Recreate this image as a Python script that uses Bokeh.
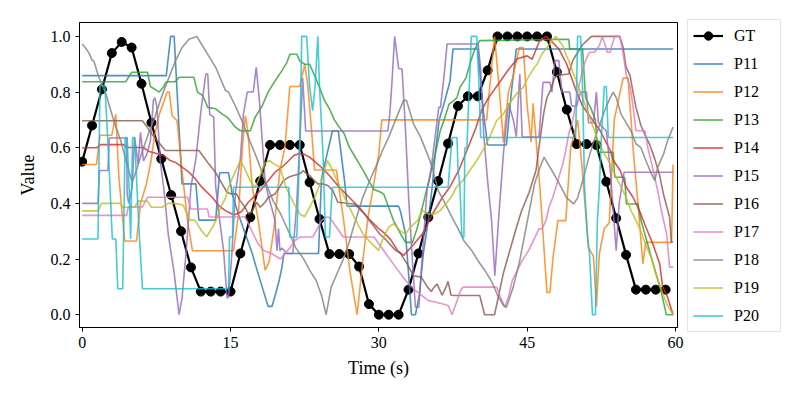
from bokeh.plotting import figure
from bokeh.models import Range1d, FixedTicker, PrintfTickFormatter, Legend, LegendItem
from bokeh.embed import file_html
from bokeh.resources import INLINE

FONT = "Liberation Serif"

x_ticks = [0, 15, 30, 45, 60]
y_ticks = [0.0, 0.2, 0.4, 0.6, 0.8, 1.0]

gt_t = list(range(60))
gt_v = [0.55, 0.68, 0.81, 0.94, 0.98, 0.96, 0.83, 0.69, 0.56, 0.43,
        0.30, 0.17, 0.083, 0.083, 0.083, 0.083, 0.22, 0.35, 0.48, 0.61,
        0.61, 0.61, 0.61, 0.476, 0.344, 0.218, 0.218, 0.218, 0.173, 0.038,
        0.0, 0.0, 0.0, 0.09, 0.22, 0.35, 0.48, 0.615, 0.75, 0.785,
        0.785, 0.878, 1.0, 1.0, 1.0, 1.0, 1.0, 1.0, 0.872, 0.737,
        0.613, 0.613, 0.61, 0.478, 0.347, 0.215, 0.09, 0.09, 0.09, 0.09]

p11 = [(0,0.859),(8.5,0.859),(8.95,1.0),(9.3,1.0),(9.6,0.8),(10.1,0.47),(11.5,0.47),(11.8,0.34),(13.5,0.34),(13.9,0.51),(14.8,0.51),(15.2,0.43),(15.9,0.35),(16.6,0.28),(17.2,0.22),(17.6,0.17),(18.2,0.10),(18.8,0.03),(19.2,0.03),(19.6,0.08),(19.9,0.12),(20.2,0.17),(20.4,0.22),(23.9,0.22),(24.2,0.49),(25.3,0.66),(25.9,0.66),(26.5,0.49),(26.8,0.39),(32.0,0.39),(32.2,0.37),(32.7,0.29),(33.0,0.15),(33.3,0.0),(33.7,0.0),(34.1,0.07),(34.5,0.22),(35.0,0.34),(35.4,0.46),(35.7,0.58),(36.1,0.70),(36.6,0.76),(37.2,0.84),(37.5,0.955),(40.0,0.955),(40.6,0.72),(41.0,0.61),(42.9,0.61),(43.4,0.80),(43.9,0.955),(59.75,0.955)]

p12 = [(0,0.54),(1.45,0.54),(1.8,0.645),(3.0,0.645),(3.4,0.72),(3.7,0.50),(4.3,0.265),(5.5,0.265),(5.9,0.40),(6.5,0.47),(7.0,0.56),(7.3,0.64),(7.8,0.72),(8.2,0.76),(8.6,0.80),(8.8,0.80),(9.1,0.715),(9.6,0.697),(10.1,0.517),(10.65,0.338),(11.15,0.23),(15.3,0.23),(15.8,0.36),(16.2,0.60),(16.5,0.715),(16.75,0.66),(17.2,0.46),(17.8,0.34),(18.5,0.16),(18.9,0.19),(19.4,0.31),(20.0,0.52),(20.5,0.60),(21.0,0.82),(22.0,0.82),(22.5,0.90),(22.8,0.83),(23.2,0.66),(23.5,0.52),(25.7,0.52),(26.4,0.35),(27.1,0.15),(27.8,0.0),(28.4,0.20),(28.9,0.35),(29.4,0.45),(30.0,0.58),(30.3,0.70),(40.9,0.70),(41.3,0.85),(41.7,1.0),(42.2,0.80),(42.6,0.62),(43.1,0.80),(43.6,0.86),(44.2,0.96),(44.6,0.96),(45.0,0.75),(45.4,0.62),(45.6,0.76),(46.3,0.45),(47.0,0.08),(47.3,0.08),(47.6,0.2),(48.1,0.338),(48.9,0.338),(49.4,0.60),(50.1,0.70),(50.5,0.55),(51.2,0.24),(51.7,0.21),(52.0,0.03),(52.3,0.22),(52.8,0.31),(53.3,0.33),(53.8,0.70),(54.7,0.85),(55.2,0.85),(55.7,0.60),(56.2,0.40),(56.7,0.183),(57.0,0.26),(59.6,0.26),(59.75,0.54)]

p13 = [(0,0.837),(4.4,0.837),(5.0,0.871),(6.6,0.871),(6.9,0.82),(7.8,0.80),(8.2,0.817),(8.5,0.837),(9.4,0.837),(9.8,0.853),(11.3,0.853),(11.66,0.80),(12.2,0.787),(12.7,0.745),(13.5,0.74),(14.2,0.72),(14.7,0.709),(15.5,0.674),(16.0,0.661),(17.0,0.661),(17.5,0.71),(18.2,0.75),(18.8,0.80),(19.5,0.84),(20.2,0.877),(20.7,0.906),(21.0,0.936),(21.7,0.936),(22.0,0.912),(22.5,0.90),(23.0,0.90),(23.5,0.859),(24.0,0.817),(24.5,0.77),(25.0,0.74),(25.5,0.70),(26.0,0.674),(26.5,0.65),(27.0,0.603),(27.5,0.573),(28.0,0.543),(28.5,0.513),(29.0,0.48),(29.5,0.45),(30.2,0.44),(30.5,0.433),(31.0,0.385),(31.5,0.337),(32.2,0.29),(32.7,0.26),(33.4,0.26),(33.9,0.313),(34.4,0.386),(34.9,0.458),(35.2,0.505),(35.7,0.577),(36.2,0.66),(36.7,0.71),(37.1,0.757),(37.6,0.77),(37.9,0.78),(38.2,0.817),(38.8,0.85),(39.2,0.90),(39.7,0.955),(40.2,0.985),(49.2,0.99),(49.3,0.955),(50.6,0.955),(50.9,0.78),(51.4,0.745),(51.9,0.70),(52.1,0.584),(53.7,0.584),(53.85,0.494),(54.86,0.494),(55.03,0.398),(56.2,0.398),(56.5,0.34),(57.6,0.20),(58.5,0.09),(59.07,0.0),(59.75,0.0)]

p14 = [(0,0.60),(1.5,0.60),(1.85,0.611),(4.2,0.611),(4.5,0.601),(6.2,0.601),(6.7,0.587),(7.6,0.578),(8.25,0.572),(8.9,0.554),(9.4,0.548),(10.1,0.53),(10.8,0.512),(11.45,0.488),(11.96,0.464),(12.46,0.446),(13.14,0.422),(13.81,0.392),(14.49,0.374),(15.16,0.362),(15.5,0.36),(16.1,0.37),(16.8,0.404),(17.5,0.428),(18.16,0.452),(18.83,0.482),(19.5,0.512),(20.2,0.53),(20.9,0.554),(21.4,0.572),(21.9,0.578),(22.4,0.578),(23.0,0.566),(24.0,0.536),(25.0,0.50),(26.0,0.458),(27.0,0.422),(28.0,0.386),(29.0,0.344),(30.0,0.309),(30.5,0.295),(31.2,0.27),(31.9,0.23),(32.5,0.213),(33.2,0.24),(34.4,0.29),(35.4,0.36),(36.4,0.42),(37.2,0.46),(38.1,0.52),(38.9,0.59),(39.8,0.67),(40.4,0.735),(41.1,0.78),(42.1,0.83),(43.1,0.88),(44.0,0.92),(45.0,0.93),(45.5,0.918),(46.2,0.98),(46.9,1.0),(47.4,0.985),(48.2,0.955),(49.0,0.90),(49.9,0.81),(50.6,0.75),(51.6,0.70),(52.4,0.66),(53.4,0.59),(53.7,0.555),(54.4,0.518),(55.0,0.46),(55.7,0.422),(56.4,0.37),(57.0,0.315),(57.7,0.255),(58.4,0.183),(58.7,0.10),(59.2,0.063),(59.75,0.0)]

p15 = [(0,0.40),(1.6,0.40),(1.75,0.518),(2.6,0.518),(2.75,0.635),(4.5,0.635),(4.55,0.434),(4.7,0.40),(5.05,0.458),(5.3,0.637),(5.65,0.542),(5.9,0.655),(6.2,0.553),(6.55,0.577),(6.9,0.625),(7.2,0.77),(7.35,0.78),(7.55,0.75),(7.9,0.55),(8.3,0.44),(8.7,0.29),(9.3,0.15),(9.8,0.0),(10.1,0.06),(10.5,0.22),(11.0,0.46),(11.5,0.56),(12.0,0.73),(12.5,0.865),(12.7,0.865),(12.9,0.72),(13.3,0.71),(13.5,0.46),(13.9,0.34),(14.3,0.23),(14.65,0.06),(14.8,0.063),(15.1,0.2),(15.5,0.44),(16.0,0.56),(16.3,0.72),(16.7,0.80),(17.3,0.80),(17.6,0.889),(17.9,0.78),(18.2,0.63),(18.5,0.48),(18.8,0.43),(19.2,0.38),(19.5,0.338),(19.7,0.23),(19.85,0.31),(20.0,0.23),(20.2,0.24),(20.7,0.22),(21.3,0.22),(21.7,0.40),(22.0,0.62),(22.3,0.85),(22.6,0.66),(30.9,0.66),(31.1,0.72),(31.3,0.82),(31.6,1.0),(32.0,0.885),(32.35,0.883),(32.7,0.66),(33.03,0.41),(33.4,0.19),(33.7,0.027),(34.04,0.027),(34.37,0.2),(34.88,0.45),(35.2,0.50),(35.55,0.60),(36.06,0.745),(36.23,0.745),(36.6,0.86),(36.9,0.973),(40.04,0.973),(40.3,0.88),(40.6,0.65),(41.0,0.48),(41.4,0.34),(41.73,0.14),(42.1,0.34),(42.6,0.58),(43.1,0.76),(43.6,0.70),(43.9,0.64),(44.25,0.865),(44.5,0.638),(46.2,0.638),(46.6,0.835),(47.3,0.835),(47.5,0.80),(47.8,0.913),(48.2,0.913),(48.5,0.80),(49.3,0.80),(49.5,0.75),(50.0,0.75),(50.4,0.80),(51.0,0.80),(51.2,0.69),(51.7,0.69),(52.0,0.80),(52.2,0.69),(53.0,0.66),(53.4,0.52),(54.0,0.23),(54.3,0.40),(54.8,0.512),(59.75,0.512)]

p16 = [(0,0.697),(6.1,0.697),(6.56,0.674),(6.9,0.656),(7.58,0.626),(8.0,0.608),(8.42,0.59),(11.8,0.59),(12.3,0.566),(12.8,0.542),(13.47,0.512),(14.15,0.47),(14.65,0.44),(15.1,0.434),(15.6,0.434),(15.97,0.41),(16.47,0.386),(16.8,0.362),(17.15,0.37),(17.65,0.404),(18.0,0.386),(18.5,0.404),(18.83,0.422),(19.5,0.434),(19.85,0.452),(20.35,0.482),(20.86,0.494),(21.36,0.50),(22.0,0.506),(22.37,0.518),(22.7,0.506),(23.0,0.50),(23.3,0.488),(23.83,0.47),(24.33,0.47),(24.84,0.464),(25.35,0.446),(25.85,0.404),(27.5,0.398),(28.04,0.38),(28.55,0.362),(29.05,0.338),(29.56,0.315),(30.06,0.291),(30.7,0.27),(31.2,0.25),(31.7,0.231),(32.2,0.22),(32.9,0.18),(33.5,0.14),(34.3,0.135),(34.9,0.10),(35.3,0.083),(35.6,0.10),(35.9,0.11),(36.4,0.07),(36.8,0.10),(37.0,0.12),(37.3,0.07),(37.7,0.069),(40.2,0.069),(40.5,0.027),(40.7,0.0),(41.7,0.0),(42.0,0.05),(42.6,0.15),(43.0,0.20),(43.8,0.30),(44.4,0.37),(45.2,0.44),(45.9,0.52),(46.3,0.63),(46.7,0.73),(47.0,0.78),(47.4,0.81),(47.7,0.845),(48.0,0.86),(49.2,0.865),(49.6,0.913),(50.0,0.936),(50.6,0.97),(51.2,0.99),(51.5,1.0),(54.36,1.0),(54.7,0.96),(55.0,0.889),(55.4,0.86),(55.7,0.80),(56.0,0.745),(56.5,0.68),(57.0,0.64),(57.4,0.61),(57.9,0.56),(58.4,0.50),(58.8,0.43),(59.4,0.35),(59.58,0.261),(59.75,0.261)]

p17 = [(0,0.357),(4.5,0.357),(4.65,0.387),(6.1,0.387),(6.6,0.422),(10.65,0.422),(10.8,0.404),(11.0,0.38),(12.67,0.38),(12.84,0.351),(16.5,0.351),(16.9,0.32),(17.3,0.29),(17.8,0.254),(18.4,0.23),(19.2,0.219),(20.05,0.20),(20.5,0.219),(21.0,0.24),(21.5,0.266),(22.0,0.279),(23.3,0.279),(23.8,0.31),(24.2,0.338),(24.6,0.35),(25.0,0.35),(25.5,0.325),(26.0,0.30),(26.4,0.279),(29.5,0.279),(30.0,0.255),(30.6,0.225),(31.0,0.205),(31.7,0.171),(32.7,0.123),(33.7,0.087),(35.0,0.051),(36.4,0.039),(37.0,0.033),(37.4,0.0),(37.8,0.039),(38.3,0.09),(38.5,0.099),(41.9,0.099),(42.3,0.063),(42.74,0.027),(43.1,0.063),(43.5,0.123),(44.5,0.195),(45.15,0.231),(45.8,0.279),(46.2,0.309),(46.5,0.309),(46.9,0.338),(47.2,0.386),(47.6,0.422),(47.9,0.458),(48.2,0.494),(48.6,0.542),(48.9,0.59),(49.2,0.65),(49.6,0.697),(49.9,0.757),(50.2,0.817),(50.6,0.877),(50.9,0.913),(51.3,0.943),(51.8,0.943),(52.3,0.967),(52.6,1.0),(52.9,0.967),(53.1,0.943),(53.4,0.943),(53.5,0.96),(53.85,1.0),(54.36,1.0),(54.7,0.94),(55.0,0.865),(55.4,0.82),(55.7,0.75),(56.0,0.661),(56.9,0.661),(57.2,0.60),(57.6,0.54),(57.9,0.494),(58.2,0.446),(58.6,0.37),(59.1,0.29),(59.4,0.171),(59.75,0.171)]

p18 = [(0,0.973),(0.3,0.96),(0.7,0.94),(1.0,0.915),(1.2,0.91),(1.65,0.857),(2.4,0.793),(3.2,0.697),(3.9,0.625),(4.4,0.56),(5.05,0.476),(5.5,0.52),(6.0,0.578),(6.7,0.65),(7.35,0.71),(8.0,0.78),(8.75,0.85),(9.4,0.91),(10.1,0.96),(10.8,0.99),(11.6,1.0),(12.1,0.97),(12.67,0.937),(13.5,0.889),(14.5,0.805),(14.8,0.80),(15.5,0.75),(16.3,0.685),(17.0,0.62),(17.8,0.55),(18.5,0.48),(19.3,0.41),(20.1,0.36),(20.86,0.30),(21.6,0.24),(22.4,0.20),(23.0,0.16),(23.66,0.123),(24.2,0.07),(24.67,0.0),(25.18,0.099),(25.8,0.15),(26.36,0.195),(27.0,0.26),(27.54,0.327),(28.38,0.422),(29.22,0.494),(29.8,0.54),(30.37,0.59),(31.0,0.638),(31.8,0.71),(32.5,0.77),(32.8,0.77),(33.2,0.722),(33.5,0.686),(34.2,0.64),(34.9,0.578),(35.4,0.53),(36.0,0.446),(36.7,0.40),(37.4,0.35),(38.0,0.31),(38.6,0.266),(39.4,0.23),(40.1,0.19),(40.7,0.16),(41.4,0.12),(42.0,0.07),(42.6,0.033),(42.9,0.027),(43.6,0.10),(44.25,0.195),(44.9,0.315),(45.74,0.47),(46.2,0.52),(46.7,0.566),(47.3,0.53),(47.8,0.50),(48.4,0.46),(49.0,0.42),(49.7,0.398),(50.1,0.42),(50.6,0.48),(51.2,0.56),(51.7,0.62),(52.3,0.68),(52.8,0.73),(53.4,0.78),(53.7,0.80),(54.0,0.78),(54.5,0.72),(55.0,0.69),(55.5,0.66),(56.0,0.614),(56.5,0.60),(57.0,0.554),(57.56,0.506),(57.9,0.482),(58.2,0.53),(58.8,0.578),(59.2,0.626),(59.75,0.674)]

p19 = [(0,0.373),(1.6,0.373),(1.95,0.40),(3.8,0.40),(4.1,0.386),(5.3,0.386),(5.66,0.408),(6.6,0.408),(7.0,0.386),(8.1,0.386),(8.7,0.40),(9.4,0.40),(10.2,0.394),(10.9,0.34),(11.4,0.34),(12.1,0.30),(12.6,0.28),(13.1,0.31),(13.5,0.336),(14.0,0.386),(14.5,0.42),(14.8,0.458),(15.3,0.50),(16.0,0.554),(16.5,0.52),(17.0,0.48),(17.5,0.458),(17.9,0.49),(18.4,0.542),(18.9,0.554),(19.4,0.542),(20.0,0.53),(20.6,0.458),(21.4,0.40),(22.0,0.362),(22.5,0.352),(23.5,0.42),(24.2,0.482),(24.8,0.554),(25.3,0.52),(25.8,0.48),(26.4,0.43),(27.1,0.38),(27.8,0.33),(28.4,0.29),(29.0,0.266),(29.96,0.231),(30.5,0.28),(31.0,0.315),(31.5,0.327),(32.2,0.30),(32.7,0.29),(33.2,0.315),(33.9,0.338),(34.4,0.374),(35.0,0.362),(35.6,0.362),(36.2,0.374),(36.8,0.40),(37.3,0.422),(37.85,0.458),(38.5,0.482),(39.2,0.518),(39.9,0.554),(40.5,0.59),(41.2,0.638),(41.9,0.697),(42.6,0.722),(43.2,0.758),(43.9,0.793),(44.6,0.817),(45.1,0.853),(45.74,0.889),(46.0,0.90),(46.5,0.937),(47.0,0.96),(47.5,0.985),(47.9,1.0),(48.2,0.985),(48.6,0.967),(48.9,0.937),(49.2,0.913),(49.7,0.865),(50.2,0.817),(50.7,0.77),(51.2,0.72),(51.8,0.661),(52.3,0.614),(52.8,0.578),(53.4,0.542),(54.0,0.494),(54.5,0.458),(55.0,0.422),(55.5,0.374),(56.0,0.338),(56.5,0.30),(57.0,0.25),(57.6,0.20),(58.0,0.147),(58.6,0.087),(59.1,0.039),(59.75,0.0)]

p20 = [(0,0.272),(1.6,0.272),(1.8,0.823),(2.3,0.823),(2.7,0.55),(3.05,0.272),(3.4,0.272),(3.6,0.093),(4.1,0.093),(4.35,0.637),(4.55,0.637),(4.75,0.45),(4.9,0.272),(5.1,0.637),(5.3,0.637),(5.55,0.45),(5.8,0.272),(6.1,0.093),(14.8,0.093),(14.9,0.279),(15.2,0.279),(15.3,0.458),(20.9,0.458),(21.0,0.279),(21.7,0.279),(22.0,0.60),(22.2,1.0),(22.7,1.0),(23.0,0.82),(23.3,0.733),(23.55,0.82),(23.83,1.0),(24.0,0.82),(24.35,0.58),(24.6,0.279),(25.0,0.279),(25.3,0.458),(37.0,0.458),(37.4,0.637),(37.9,0.637),(38.0,0.53),(38.2,0.458),(38.4,0.279),(38.6,0.279),(38.7,0.60),(38.9,0.60),(39.1,0.78),(39.35,1.0),(39.9,1.0),(40.1,0.85),(40.3,0.637),(49.9,0.637),(50.1,1.0),(50.4,1.0),(50.6,0.82),(50.8,0.458),(51.1,0.279),(51.3,0.22),(51.6,0.0),(51.9,0.0),(52.1,0.338),(52.3,0.458),(52.5,0.637),(52.8,0.82),(53.0,0.82),(53.2,0.637),(59.75,0.637)]

series_names = ["P11", "P12", "P13", "P14", "P15", "P16", "P17", "P18", "P19", "P20"]
series_data = [p11, p12, p13, p14, p15, p16, p17, p18, p19, p20]
series_colors = ["#1f77b4", "#ff7f0e", "#2ca02c", "#d62728", "#9467bd",
                 "#8c564b", "#e377c2", "#7f7f7f", "#bcbd22", "#17becf"]


def unzip(pts):
    return [a for a, _ in pts], [b for _, b in pts]


p = figure(frame_width=598, frame_height=305, output_backend="svg", toolbar_location=None,
           x_range=Range1d(-0.27, 60.2), y_range=Range1d(-0.046, 1.05),
           min_border_left=79, min_border_right=0, min_border_top=22,
           min_border_bottom=73)
p.background_fill_color = "white"
p.border_fill_color = "white"
p.outline_line_color = "black"
p.outline_line_width = 1
p.grid.visible = False

gt_line = p.line(gt_t, gt_v, line_color="black", line_width=2.2)
gt_pts = p.scatter(gt_t, gt_v, size=9, fill_color="black", line_color="black")

items = [LegendItem(label="GT", renderers=[gt_line, gt_pts])]
for name, data, col in zip(series_names, series_data, series_colors):
    xs, ys = unzip(data)
    r = p.line(xs, ys, line_color=col, line_width=1.6, line_alpha=0.8)
    items.append(LegendItem(label=name, renderers=[r]))

p.xaxis.ticker = FixedTicker(ticks=x_ticks)
p.yaxis.ticker = FixedTicker(ticks=y_ticks)
p.yaxis.formatter = PrintfTickFormatter(format="%.1f")
p.xaxis.axis_label = "Time (s)"
p.yaxis.axis_label = "Value"
for ax in (p.xaxis, p.yaxis):
    ax.axis_label_text_font = FONT
    ax.axis_label_text_font_size = "18px"
    ax.axis_label_text_font_style = "normal"
    ax.axis_label_text_color = "black"
    ax.major_label_text_font = FONT
    ax.major_label_text_font_size = "16px"
    ax.major_label_text_color = "black"
    ax.major_tick_out = 4
    ax.major_tick_in = 0
    ax.minor_tick_line_color = None
    ax.axis_line_color = "black"
    ax.major_tick_line_color = "black"
    ax.major_label_standoff = 5
p.xaxis.axis_label_standoff = 7
p.yaxis.axis_label_standoff = 10

legend = Legend(items=items, location=(10, -5),
                label_text_font=FONT, label_text_font_size="16px",
                label_text_color="black",
                glyph_width=30, glyph_height=21, label_height=21,
                spacing=7, padding=5, label_standoff=11, label_width=41,
                border_line_color="#cccccc", border_line_width=1,
                background_fill_color="white", background_fill_alpha=1,
                margin=0)
p.add_layout(legend, "right")

open("out.html", "w").write(file_html(p, INLINE))
